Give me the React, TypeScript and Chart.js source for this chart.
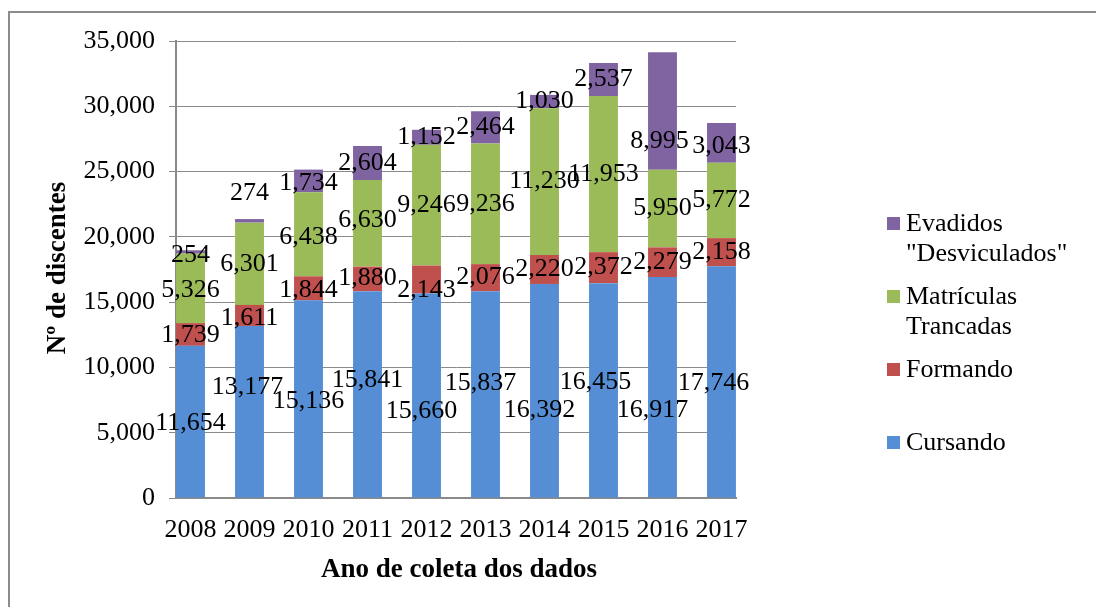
import React, { useEffect, useRef } from "react";
import { Chart, registerables } from "chart.js";

Chart.register(...registerables);

// ---- data ----
const years = ["2008", "2009", "2010", "2011", "2012", "2013", "2014", "2015", "2016", "2017"];
const cursando = [11654, 13177, 15136, 15841, 15660, 15837, 16392, 16455, 16917, 17746];
const formando = [1739, 1611, 1844, 1880, 2143, 2076, 2220, 2372, 2279, 2158];
const trancadas = [5326, 6301, 6438, 6630, 9246, 9236, 11230, 11953, 5950, 5772];
const evadidos = [254, 274, 1734, 2604, 1152, 2464, 1030, 2537, 8995, 3043];
const yTickValues = [0, 5000, 10000, 15000, 20000, 25000, 30000, 35000];

const seriesNames = ["Cursando", "Formando", "Matrículas Trancadas", 'Evadidos "Desviculados"'];
const legendLines = [["Cursando"], ["Formando"], ["Matrículas", "Trancadas"], ["Evadidos", '"Desviculados"']];
const yTitle = "Nº de discentes";
const xTitle = "Ano de coleta dos dados";

// ---- styles ----
const colors = ["#558ED5", "#C0504D", "#9BBB59", "#8064A2"];
const FONT = "'Liberation Serif', 'Times New Roman', serif";
const GRID = "#8a8a8a";
// manual label nudges (px) [dx, dy] per series / year, as in the original layout
const labelNudge: [number, number][][] = [
  [[0, 2], [-2, -25], [0, 2], [0, -14], [-5, 16], [-5, -11], [-5, 19], [-8, -8], [-10, 23], [-8, 1]],
  [[0, 1], [0, 3], [0, 2], [0, -1], [0, 11], [0, 0], [0, 0], [0, 0], [0, 0], [0, 0]],
  [[0, 2], [0, 0], [0, 3], [0, -3], [0, 0], [0, 0], [0, 0], [0, 0], [0, 0], [0, 0]],
  [[0, 3], [0, -28], [0, 2], [0, 0], [0, 0], [0, 0], [0, 0], [0, 0], [-3, 30], [0, 3]],
];

const allSeries = [cursando, formando, trancadas, evadidos];

export default function App() {
  const ref = useRef<HTMLCanvasElement>(null);

  useEffect(() => {
    const canvas = ref.current;
    if (!canvas) return;

    const decor = {
      id: "decor",
      beforeDraw(chart: any) {
        const ctx = chart.ctx;
        ctx.save();
        ctx.fillStyle = "#ffffff";
        ctx.fillRect(0, 0, chart.width, chart.height);
        ctx.strokeStyle = "#8c8c8c";
        ctx.lineWidth = 2;
        ctx.beginPath();
        ctx.moveTo(9, chart.height + 2);
        ctx.lineTo(9, 12);
        ctx.lineTo(chart.width + 2, 12);
        ctx.stroke();
        ctx.restore();
      },
      afterDatasetsDraw(chart: any) {
        const ctx = chart.ctx;
        ctx.save();
        ctx.font = `26px ${FONT}`;
        ctx.fillStyle = "#000000";
        ctx.textAlign = "center";
        ctx.textBaseline = "middle";
        chart.data.datasets.forEach((ds: any, si: number) => {
          const meta = chart.getDatasetMeta(si);
          meta.data.forEach((el: any, i: number) => {
            const v = allSeries[si][i];
            const cx = el.x + labelNudge[si][i][0];
            const cy = (el.y + el.base) / 2 + labelNudge[si][i][1];
            ctx.fillText(v.toLocaleString("en-US"), cx, cy);
          });
        });
        ctx.restore();
      },
      afterDraw(chart: any) {
        const ctx = chart.ctx;
        ctx.save();
        ctx.fillStyle = "#000000";
        // axis titles
        ctx.font = `bold 27px ${FONT}`;
        ctx.textAlign = "center";
        ctx.textBaseline = "middle";
        ctx.fillText(xTitle, 459, 570);
        ctx.save();
        ctx.translate(58, 268);
        ctx.rotate(-Math.PI / 2);
        ctx.fillText(yTitle, 0, 0);
        ctx.restore();
        // legend
        const items = [
          { si: 3, y: 223 },
          { si: 2, y: 296 },
          { si: 1, y: 369 },
          { si: 0, y: 442 },
        ];
        ctx.font = `26px ${FONT}`;
        ctx.textAlign = "left";
        items.forEach((it) => {
          ctx.fillStyle = colors[it.si];
          ctx.fillRect(887, it.y - 6, 13, 13);
          ctx.fillStyle = "#000000";
          legendLines[it.si].forEach((line, li) => {
            ctx.fillText(line, 906, it.y + 1 + li * 30);
          });
        });
        ctx.restore();
      },
    };

    const chart = new Chart(canvas, {
      type: "bar",
      data: {
        datasets: allSeries.map((arr, si) => ({
          label: seriesNames[si],
          data: arr.map((v, i) => ({ x: i, y: v })),
          backgroundColor: colors[si],
          borderWidth: 0,
          categoryPercentage: 1,
          barPercentage: 0.49,
        })),
      },
      options: {
        responsive: false,
        animation: false,
        events: [],
        layout: { padding: { left: 0, right: 360, top: 41, bottom: 0 } },
        plugins: {
          legend: { display: false },
          tooltip: { enabled: false },
          title: { display: false },
        },
        scales: {
          x: {
            type: "linear",
            stacked: true,
            offset: false,
            min: -0.246,
            max: 9.246,
            afterBuildTicks: (scale: any) => {
              scale.ticks = years.map((_, i) => ({ value: i }));
            },
            afterFit: (scale: any) => {
              scale.height = 607 - 498;
              scale.paddingLeft = 0;
              scale.paddingRight = 0;
            },
            grid: { display: false, offset: false },
            border: { display: true, color: GRID, width: 2 },
            ticks: {
              autoSkip: false,
              maxRotation: 0,
              minRotation: 0,
              padding: 9,
              color: "#000000",
              font: { family: FONT, size: 26 },
              callback: (v: any) => years[Math.round(Number(v))] ?? "",
            },
          },
          y: {
            stacked: true,
            min: 0,
            max: 35000,
            afterBuildTicks: (scale: any) => {
              scale.ticks = yTickValues.map((v) => ({ value: v }));
            },
            afterFit: (scale: any) => {
              scale.width = 176;
              scale.paddingTop = 0;
              scale.paddingBottom = 0;
            },
            grid: { color: GRID, lineWidth: 1, tickLength: 7, drawTicks: true },
            border: { display: true, color: GRID, width: 2 },
            ticks: {
              padding: 14,
              color: "#000000",
              font: { family: FONT, size: 26 },
              callback: (v: any) => Number(v).toLocaleString("en-US"),
            },
          },
        },
      },
      plugins: [decor],
    });

    return () => chart.destroy();
  }, []);

  return (
    <div style={{ position: "fixed", left: 0, top: 0, width: 1096, height: 607, background: "#fff" }}>
      <canvas ref={ref} width={1096} height={607} style={{ display: "block" }} />
    </div>
  );
}
